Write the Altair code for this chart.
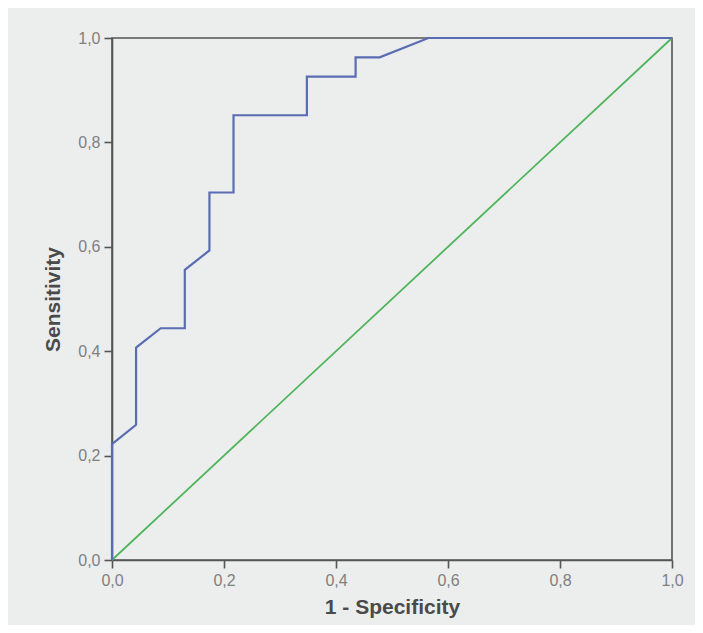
import altair as alt
import pandas as pd

# ROC curve vertices (1 - specificity, sensitivity)
fpr = [0.0, 0.0, 0.043, 0.043, 0.087, 0.130, 0.130, 0.174, 0.174, 0.217,
       0.217, 0.348, 0.348, 0.435, 0.435, 0.478, 0.565, 1.0]
tpr = [0.0, 0.222, 0.259, 0.407, 0.444, 0.444, 0.556, 0.593, 0.704, 0.704,
       0.852, 0.852, 0.926, 0.926, 0.963, 0.963, 1.0, 1.0]

# reference (chance) diagonal
ref_x = [0.0, 1.0]
ref_y = [0.0, 1.0]

tick_values = [0.0, 0.2, 0.4, 0.6, 0.8, 1.0]

roc = pd.DataFrame({"fpr": fpr, "tpr": tpr, "order": list(range(len(fpr)))})
ref = pd.DataFrame({"fpr": ref_x, "tpr": ref_y, "order": [0, 1]})

label_expr = "replace(format(datum.value, '.1f'), '.', ',')"

x_enc = alt.X(
    "fpr:Q",
    scale=alt.Scale(domain=[0, 1], nice=False, zero=False),
    axis=alt.Axis(title="1 - Specificity", values=tick_values, labelExpr=label_expr),
)
y_enc = alt.Y(
    "tpr:Q",
    scale=alt.Scale(domain=[0, 1], nice=False, zero=False),
    axis=alt.Axis(title="Sensitivity", values=tick_values, labelExpr=label_expr),
)

diag = alt.Chart(ref).mark_line(color="#4fb45a", strokeWidth=1.8).encode(
    x=x_enc, y=y_enc, order="order:Q"
)
curve = alt.Chart(roc).mark_line(color="#5a6cb4", strokeWidth=2.2).encode(
    x=x_enc, y=y_enc, order="order:Q"
)

chart = (
    alt.layer(diag, curve)
    .properties(
        width=560,
        height=522,
        background="#eceeee",
        autosize=alt.AutoSizeParams(type="none"),
        padding={"left": 104, "top": 30, "right": 23, "bottom": 65},
    )
    .configure_view(stroke="#555555", strokeWidth=1.6)
    .configure_axis(
        grid=False,
        domainColor="#555555",
        domainWidth=1.6,
        tickColor="#555555",
        tickWidth=1.6,
        tickSize=8,
        labelFont="Liberation Sans",
        labelFontSize=16,
        labelColor="#808080",
        labelPadding=4,
        titleFont="Liberation Sans",
        titleFontSize=21,
        titleFontWeight="bold",
        titleColor="#4a4a4a",
    )
    .configure_axisX(titlePadding=8, labelFlush=False)
    .configure_axisY(titlePadding=14, labelFlush=False)
)

chart.save("out.html", embed_options={"renderer": "svg", "actions": False})
